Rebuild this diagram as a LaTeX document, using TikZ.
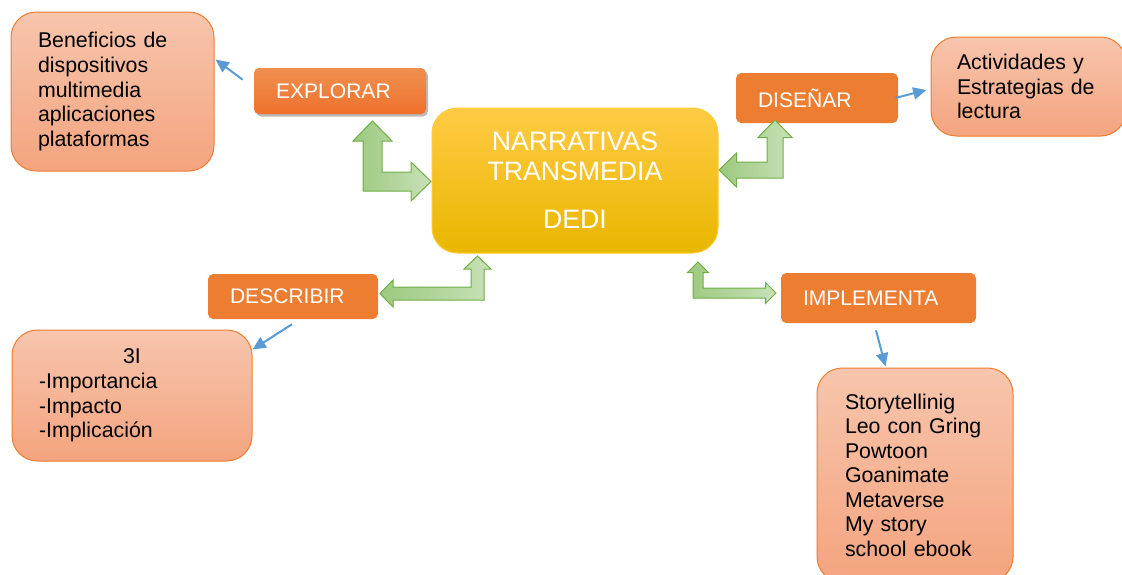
\documentclass[tikz,border=0pt]{standalone}
\usepackage{fontspec}
\setmainfont{Liberation Sans}
\usetikzlibrary{shapes.geometric, arrows.meta, shadows}
\definecolor{phaseorange}{HTML}{ED7D31}
\definecolor{salmontop}{HTML}{F7C5AD}
\definecolor{salmonbot}{HTML}{F4A47F}
\definecolor{coretop}{HTML}{FFCB45}
\definecolor{coremid}{HTML}{FFC000}
\definecolor{corebot}{HTML}{E9B600}
\definecolor{greenedge}{HTML}{70AD47}
\definecolor{greendark}{HTML}{9CC97F}
\definecolor{greenlight}{HTML}{C8E1B7}
\definecolor{pointerblue}{HTML}{5B9BD5}
\tikzstyle{idea} = [
    rectangle,
    rounded corners=19pt,
    draw=phaseorange,
    line width=0.75pt,
    top color=salmontop,
    bottom color=salmonbot,
    align=left,
    text=black,
    font=\fontsize{16}{18.4}\selectfont
]
\tikzstyle{phase} = [
    rectangle,
    rounded corners=4pt,
    fill=phaseorange,
    text=white,
    align=left,
    inner xsep=16.5pt,
    font=\fontsize{15.8}{18}\selectfont
]
\tikzstyle{core} = [
    rectangle,
    rounded corners=19pt,
    draw=coremid!80!white,
    line width=0.75pt,
    top color=coretop,
    middle color=coremid,
    bottom color=corebot,
    text=white,
    align=center,
    font=\fontsize{20}{22.5}\selectfont
]
\tikzstyle{pointer} = [
    draw=pointerblue,
    line width=1.5pt,
    -{Triangle[length=10pt, width=9pt]}
]
\tikzstyle{greenarrow} = [
    draw=greenedge,
    line width=0.75pt,
    left color=greendark,
    right color=greenlight
]
% bent double arrow: corner x, corner y, tip y (up), tip x (side), half shaft, half head, head length, side
\newcommand{\bentarrow}[8]{%
  \path[greenarrow] (#1,#3) -- ({#1+(#8)*#6},{#3+#7}) -- ({#1+(#8)*#5},{#3+#7})
    -- ({#1+(#8)*#5},{#2-#5}) -- ({#4-(#8)*#7},{#2-#5}) -- ({#4-(#8)*#7},{#2-#6})
    -- (#4,#2) -- ({#4-(#8)*#7},{#2+#6}) -- ({#4-(#8)*#7},{#2+#5})
    -- ({#1-(#8)*#5},{#2+#5}) -- ({#1-(#8)*#5},{#3+#7}) -- ({#1-(#8)*#6},{#3+#7}) -- cycle;}

\begin{document}
\begin{tikzpicture}[x=0.75pt, y=-0.75pt]
    \useasboundingbox (0,0) rectangle (1122,575);
    \clip (0,0) rectangle (1122,575);

    \node (core) [core, minimum width=214.5pt, minimum height=108.75pt] at (575,180.5)
        {NARRATIVAS\\TRANSMEDIA\\[13.5pt]DEDI};

    \node (explorar) [phase, text width=96pt, minimum width=129pt, minimum height=34.5pt,
        top color=phaseorange!85!white, bottom color=phaseorange!90!red,
        drop shadow={shadow xshift=1.5pt, shadow yshift=-2pt, fill=black!60, opacity=0.45}] at (340,91) {EXPLORAR};
    \node (disenar) [phase, text width=88.5pt, minimum width=121.5pt, minimum height=37.5pt] at (817,98) {DISEÑAR};
    \node (describir) [phase, text width=94.5pt, minimum width=127.5pt, minimum height=33.75pt] at (293,296.5) {DESCRIBIR};
    \node (implementa) [phase, text width=113.25pt, minimum width=146.25pt, minimum height=37.5pt] at (878.5,298) {IMPLEMENTA};

    \node (benef) [idea, text width=111.75pt, inner xsep=20.25pt, minimum width=152.25pt, minimum height=119.25pt] at (112.5,91.5)
        {Beneficios de\\dispositivos\\multimedia\\aplicaciones\\plataformas};
    \node (activ) [idea, text width=107.25pt, inner xsep=19.5pt, minimum width=146.25pt, minimum height=74.25pt] at (1028.5,86.5)
        {Actividades y\\Estrategias de\\lectura};
    \node (tres) [idea, text width=139.5pt, inner xsep=20.25pt, minimum width=180pt, minimum height=98.25pt] at (132,395.5)
        {\makebox[\linewidth][c]{3I}\\-Importancia\\-Impacto\\-Implicación};
    \node (story) [idea, text width=105pt, inner xsep=21pt, minimum width=147pt, minimum height=160.5pt] at (915,475)
        {Storytellinig\\Leo con Gring\\Powtoon\\Goanimate\\Metaverse\\My story\\school ebook};

    % green links to the core
    \bentarrow{372.5}{181.5}{121}{431}{9.5}{19.5}{20}{1}
    \bentarrow{775}{170}{120}{719}{8}{17}{17.5}{-1}
    \bentarrow{477.5}{293.5}{256}{380}{6.5}{13.5}{13}{-1}
    \bentarrow{698}{293}{262}{776}{5}{10.5}{10.5}{1}

    % blue pointers
    \draw[pointer] ([shift={(-11,12)}]explorar.north west) -- ([shift={(1,48)}]benef.north east);
    \draw[pointer] ([shift={(-3,0)}]disenar.east) -- ([shift={(-4,3.5)}]activ.west);
    \draw[pointer] ([shift={(-1,5)}]describir.south) -- ([shift={(0,20)}]tres.north east);
    \draw[pointer] ([shift={(-2.5,7)}]implementa.south) -- ([shift={(69,-1)}]story.north west);
\end{tikzpicture}
\end{document}
